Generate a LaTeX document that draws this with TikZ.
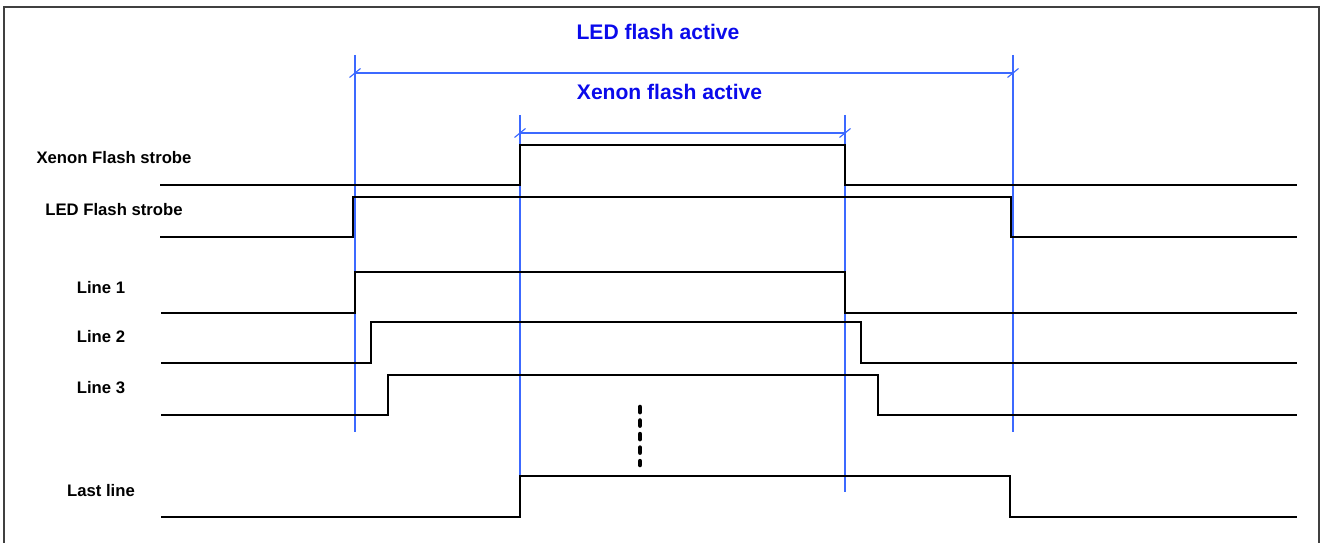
\documentclass[tikz,border=0pt]{standalone}
\usepackage{fontspec}
\setmainfont{Liberation Sans}
\usepackage{tikz}
\usetikzlibrary{calc}

\definecolor{guideblue}{RGB}{60,105,255}
\definecolor{textblue}{RGB}{10,10,235}
\tikzset{
  sig/.style={black, line width=1pt},
  guide/.style={guideblue, line width=0.65pt},
  lbl/.style={font=\fontsize{9.5}{11}\selectfont\bfseries, inner sep=0pt},
  head/.style={font=\fontsize{12}{14}\selectfont\bfseries, text=textblue, inner sep=0pt}
}

\begin{document}
\begin{tikzpicture}[x=0.02cm, y=-0.02cm]
\useasboundingbox (0,0) rectangle (1324,543);
\draw[line width=0.9pt, black!75] (4,545) -- (4,7) -- (1319,7) -- (1319,545);

% guide lines
\draw[guide] (355,55) -- (355,432);
\draw[guide] (520,115) -- (520,492);
\draw[guide] (845,115) -- (845,492);
\draw[guide] (1013,55) -- (1013,432);

\coordinate (ledA) at (355,73);
\coordinate (ledB) at (1013,73);
\coordinate (xenA) at (520,133);
\coordinate (xenB) at (845,133);
\draw[guide] (ledA) -- (ledB);
\draw[guide] (xenA) -- (xenB);
\draw[guide] ($(ledA)+(-5.5,4.5)$) -- ($(ledA)+(5.5,-4.5)$);
\draw[guide] ($(ledB)+(-5.5,4.5)$) -- ($(ledB)+(5.5,-4.5)$);
\draw[guide] ($(xenA)+(-5.5,4.5)$) -- ($(xenA)+(5.5,-4.5)$);
\draw[guide] ($(xenB)+(-5.5,4.5)$) -- ($(xenB)+(5.5,-4.5)$);

\draw (658,32) node[head] (ledact) {LED flash active};
\draw (669.5,92) node[head] (xenact) {Xenon flash active};

% signals
\draw (114,158) node[lbl] (xenon) {Xenon Flash strobe};
\draw[sig] (160,185) -- (520,185) -- (520,145) -- (845,145) -- (845,185) -- (1297,185);

\draw (114,210) node[lbl] (led) {LED Flash strobe};
\draw[sig] (160,237) -- (353,237) -- (353,197) -- (1011,197) -- (1011,237) -- (1297,237);

\draw (101,288) node[lbl] (line1) {Line 1};
\draw[sig] (161,313) -- (355,313) -- (355,272) -- (845,272) -- (845,313) -- (1297,313);

\draw (101,337) node[lbl] (line2) {Line 2};
\draw[sig] (161,363) -- (371,363) -- (371,322) -- (861,322) -- (861,363) -- (1297,363);

\draw (101,388) node[lbl] (line3) {Line 3};
\draw[sig] (161,415) -- (388,415) -- (388,375) -- (878,375) -- (878,415) -- (1297,415);

\draw[line width=2.6pt, line cap=round, dash pattern=on 2.9pt off 4.8pt] (640,407) -- (640,465);

\draw (101,491) node[lbl] (lastline) {Last line};
\draw[sig] (161,517) -- (520,517) -- (520,476) -- (1010,476) -- (1010,517) -- (1297,517);

\end{tikzpicture}
\end{document}
